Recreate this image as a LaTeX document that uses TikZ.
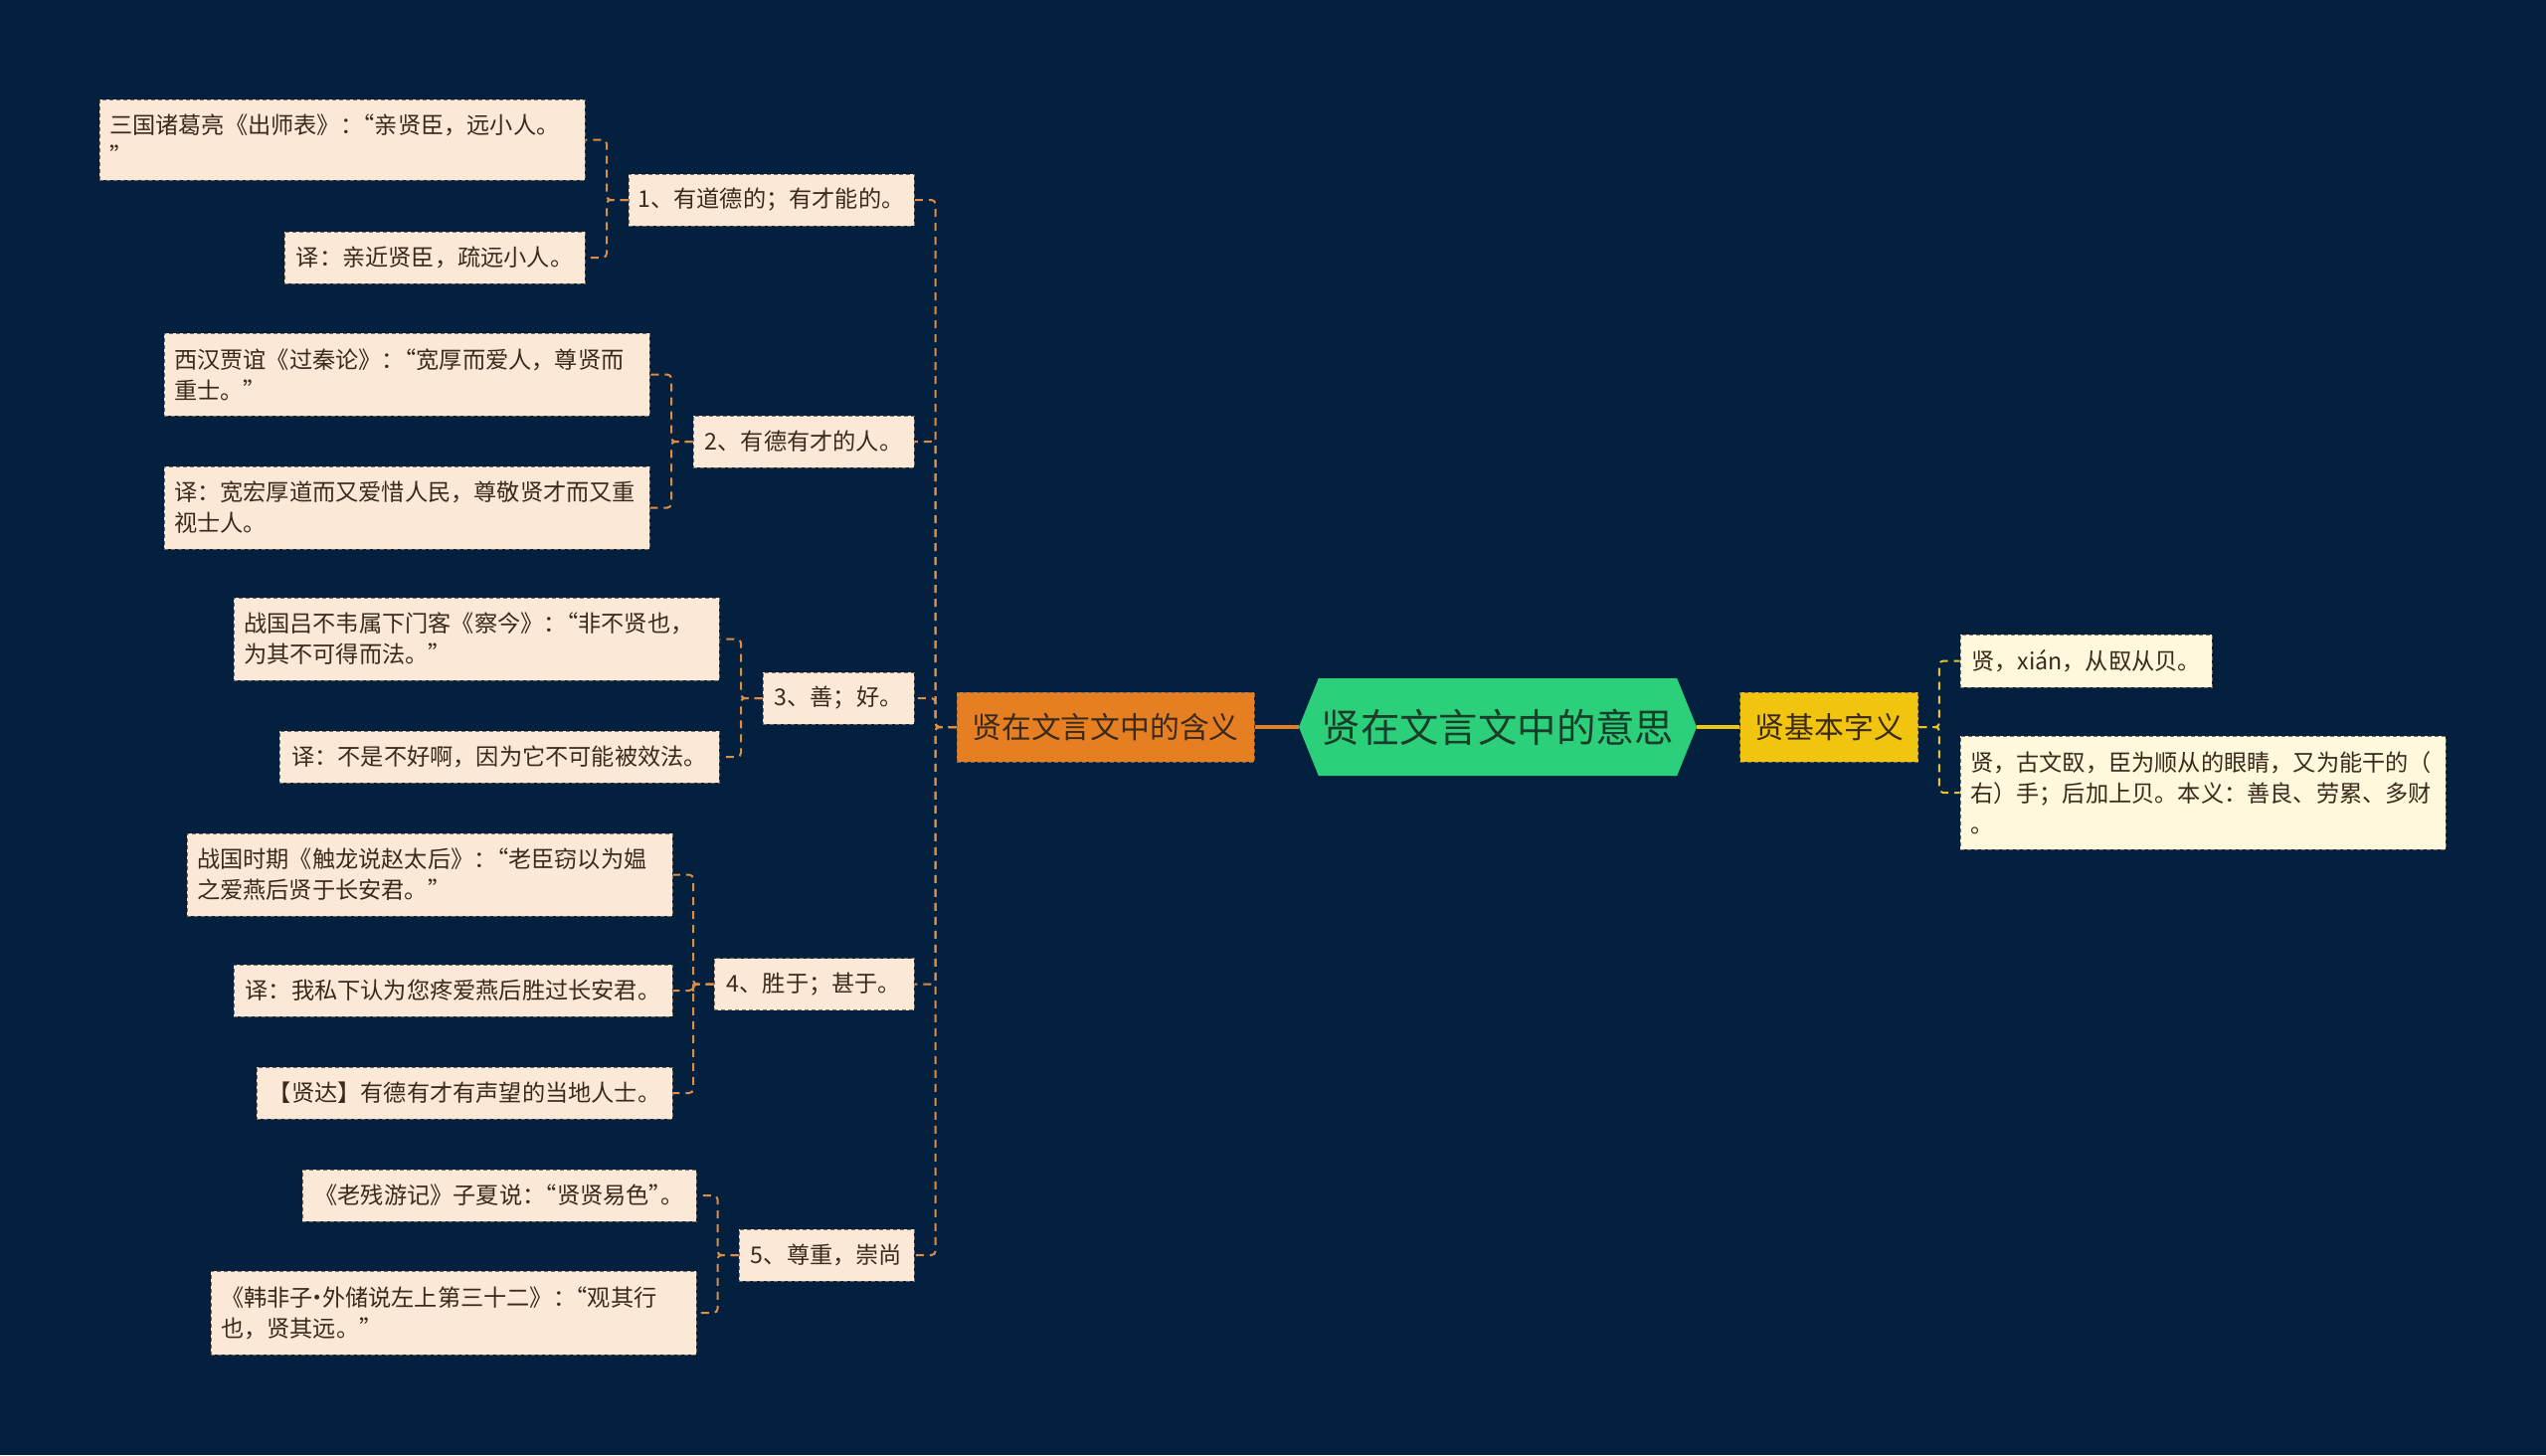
\documentclass[tikz,border=0pt]{standalone}
\usepackage{fontspec}
\setmainfont{Noto Sans CJK SC}
\usepackage{tikz}
\usetikzlibrary{positioning,calc,shapes.symbols}
\definecolor{bgnavy}{HTML}{03213F}
\definecolor{rootgreen}{HTML}{2DD07A}
\definecolor{rootink}{HTML}{1A3D2A}
\definecolor{midorange}{HTML}{E67F22}
\definecolor{midyellow}{HTML}{F1C40F}
\definecolor{peach}{HTML}{FCE8D6}
\definecolor{cream}{HTML}{FEF8DC}
\definecolor{inkbrown}{HTML}{3A2A1C}
\definecolor{boxedge}{HTML}{7A6A5C}
\definecolor{linkorange}{HTML}{DC8E45}
\definecolor{linkyellow}{HTML}{E9C423}
\newcommand{\lquo}{\makebox[0.5em][r]{“}}
\newcommand{\rquo}{\makebox[0.5em][l]{”}}
\newcommand{\mdot}{\makebox[0.4em]{·}}

\begin{document}
\begin{tikzpicture}[x=0.5pt, y=-0.5pt,
  box/.style={rectangle, inner sep=0pt, draw=boxedge, line width=0.5pt, dash pattern=on 2pt off 1.5pt, text=inkbrown, font=\fontsize{11.6}{15.5}\selectfont},
  leaf/.style={box, fill=peach, minimum height=26pt},
  twoline/.style={leaf, text width=234pt, align=left, minimum width=244pt, minimum height=41.5pt},
  note/.style={box, fill=cream, minimum height=26.5pt},
  hub/.style={box, font=\fontsize{14.9}{18}\selectfont, minimum height=35pt},
  conn/.style={draw=linkorange, line width=1pt, dash pattern=on 4pt off 3pt, rounded corners=2pt},
  yconn/.style={conn, draw=linkyellow}]

\fill[bgnavy] (0,0) rectangle (2560,1463);
\useasboundingbox (0,0) rectangle (2560,1463);

% centre
\node[signal, signal to=west and east, signal pointer angle=136, fill=rootgreen, text=rootink, minimum width=200pt, minimum height=49pt, inner sep=0pt, font=\fontsize{19.7}{22}\selectfont] (root) at (1506,731) {贤在文言文中的意思};
\node[hub, fill=midorange, minimum width=149.5pt, text=inkbrown] (mid) [left=22pt of root] {贤在文言文中的含义};
\node[hub, fill=midyellow, minimum width=89.5pt, text=inkbrown] (base) [right=21.5pt of root] {贤基本字义};

\draw[midorange, line width=1.6pt] (root.west) -- (mid.east);
\draw[midyellow, line width=1.6pt] (root.east) -- (base.west);

% right side
\node[note, minimum width=126.5pt] (r1) at (2097.5,664.5) {贤，xián，从臤从贝。};
\node[note, text width=234pt, align=left, minimum width=244pt, minimum height=57pt] (r2) at (2215,797) {贤，古文臤，臣为顺从的眼睛，又为能干的（\\右）手；后加上贝。本义：善良、劳累、多财\\。};

\draw[yconn] (base.east) -| ($(base.east)!.5!(r1.west)$) |- (r1.west);
\draw[yconn] (base.east) -| ($(base.east)!.5!(r2.west)$) |- (r2.west);

% left side, first level
\node[leaf, minimum width=143.5pt] (p1) at (775.5,201) {1、有道德的；有才能的。};
\node[leaf, minimum width=111pt] (p2) at (808,444) {2、有德有才的人。};
\node[leaf, minimum width=76pt] (p3) at (843,702) {3、善；好。};
\node[leaf, minimum width=100.5pt] (p4) at (818.5,989.5) {4、胜于；甚于。};
\node[leaf, minimum width=88pt] (p5) at (831,1262) {5、尊重，崇尚};

\draw[conn] (mid.west) -| ($(mid.west)!.5!(p1.east)$) |- (p1.east);
\draw[conn] (mid.west) -| ($(mid.west)!.5!(p2.east)$) |- (p2.east);
\draw[conn] (mid.west) -| ($(mid.west)!.5!(p3.east)$) |- (p3.east);
\draw[conn] (mid.west) -| ($(mid.west)!.5!(p4.east)$) |- (p4.east);
\draw[conn] (mid.west) -| ($(mid.west)!.5!(p5.east)$) |- (p5.east);

% left side, second level
\node[twoline, minimum height=40.5pt] (l1a) at (344,140.5) {三国诸葛亮《出师表》：\lquo 亲贤臣，远小人。\\\rquo};
\node[leaf, minimum width=151pt] (l1b) at (437,259) {译：亲近贤臣，疏远小人。};
\node[twoline] (l2a) at (409,376.5) {西汉贾谊《过秦论》：\lquo 宽厚而爱人，尊贤而\\重士。\rquo};
\node[twoline] (l2b) at (409,510.5) {译：宽宏厚道而又爱惜人民，尊敬贤才而又重\\视士人。};
\node[twoline] (l3a) at (479,642.5) {战国吕不韦属下门客《察今》：\lquo 非不贤也，\\为其不可得而法。\rquo};
\node[leaf, minimum width=221pt] (l3b) at (502,761) {译：不是不好啊，因为它不可能被效法。};
\node[twoline] (l4a) at (432,879.5) {战国时期《触龙说赵太后》：\lquo 老臣窃以为媪\\之爱燕后贤于长安君。\rquo};
\node[leaf, minimum width=220.5pt] (l4b) at (455.5,996) {译：我私下认为您疼爱燕后胜过长安君。};
\node[leaf, minimum width=209pt] (l4c) at (467,1099) {【贤达】有德有才有声望的当地人士。};
\node[leaf, minimum width=198pt] (l5a) at (502,1202) {《老残游记》子夏说：\lquo 贤贤易色\rquo。};
\node[twoline, minimum height=42pt] (l5b) at (456,1320) {《韩非子\mdot 外储说左上第三十二》：\lquo 观其行\\也，贤其远。\rquo};

\draw[conn] (p1.west) -| ($(p1.west)!.5!(l1a.east)$) |- (l1a.east);
\draw[conn] (p1.west) -| ($(p1.west)!.5!(l1b.east)$) |- (l1b.east);
\draw[conn] (p2.west) -| ($(p2.west)!.5!(l2a.east)$) |- (l2a.east);
\draw[conn] (p2.west) -| ($(p2.west)!.5!(l2b.east)$) |- (l2b.east);
\draw[conn] (p3.west) -| ($(p3.west)!.5!(l3a.east)$) |- (l3a.east);
\draw[conn] (p3.west) -| ($(p3.west)!.5!(l3b.east)$) |- (l3b.east);
\draw[conn] (p4.west) -| ($(p4.west)!.5!(l4a.east)$) |- (l4a.east);
\draw[conn] (p4.west) -| ($(p4.west)!.5!(l4b.east)$) |- (l4b.east);
\draw[conn] (p4.west) -| ($(p4.west)!.5!(l4c.east)$) |- (l4c.east);
\draw[conn] (p5.west) -| ($(p5.west)!.5!(l5a.east)$) |- (l5a.east);
\draw[conn] (p5.west) -| ($(p5.west)!.5!(l5b.east)$) |- (l5b.east);
\end{tikzpicture}
\end{document}
